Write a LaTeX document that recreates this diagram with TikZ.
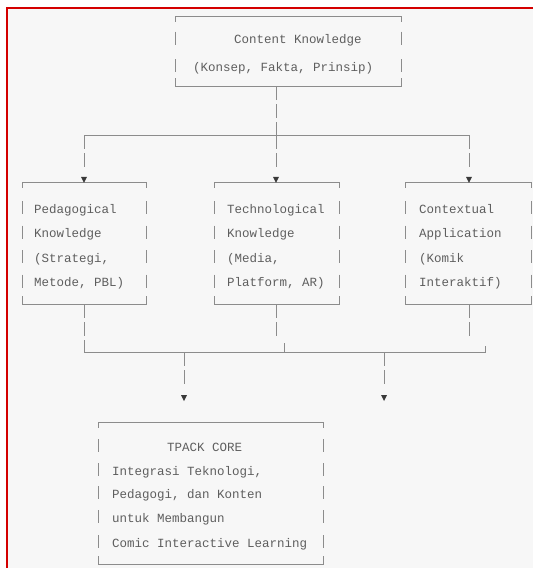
\documentclass[tikz,border=0pt]{standalone}
\usepackage{fontspec}
\newfontfamily\asciimono{Liberation Mono}
\definecolor{bgc}{HTML}{F7F7F7}
\definecolor{lc}{HTML}{8C8C8C}
\definecolor{tc}{HTML}{5E5E5E}
\definecolor{tipc}{HTML}{3A3A3A}
\definecolor{redc}{HTML}{D40000}
\tikzset{
  txt/.style={anchor=base west, inner sep=0pt, text=tc, font=\asciimono\fontsize{12.5}{15}\selectfont},
  holder/.style={draw=none, inner sep=0pt},
  edgeline/.style={draw=lc, line width=0.9pt},
  conn/.style={draw=lc, line width=0.9pt, dash pattern=on 14pt off 4pt},
}
\newcommand\asciiframe[2]{%
  \draw[edgeline] ([yshift=-5pt]#1.north west) -- (#1.north west) -- (#1.north east) -- ([yshift=-5pt]#1.north east);
  \draw[edgeline] ([yshift=8pt]#1.south west) -- (#1.south west) -- (#1.south east) -- ([yshift=8pt]#1.south east);
  \foreach \bl in {#2} {
    \draw[edgeline] (#1.west |- 0,\bl-12) -- (#1.west |- 0,\bl+1);
    \draw[edgeline] (#1.east |- 0,\bl-12) -- (#1.east |- 0,\bl+1);
  }
}
\newcommand\downtip[1]{\fill[tipc] ([xshift=-3pt,yshift=6pt]#1) -- ([xshift=3pt,yshift=6pt]#1) -- (#1) -- cycle;}
\begin{document}
\begin{tikzpicture}[x=1pt,y=-1pt]
\useasboundingbox (0,0) rectangle (533,568);
\fill[white] (0,0) rectangle (533,568);
\fill[bgc] (7,8) rectangle (533,568);
\draw[redc, line width=2pt] (7,568) -- (7,8) -- (533,8);

% box holders
\node[holder, minimum width=225pt, minimum height=69pt] (ck) at (288.5,51.5) {};
\node[holder, minimum width=123pt, minimum height=121pt] (ped) at (84.5,243.5) {};
\node[holder, minimum width=124pt, minimum height=121pt] (tech) at (277,243.5) {};
\node[holder, minimum width=125pt, minimum height=121pt] (ctx) at (468.5,243.5) {};
\node[holder, minimum width=224pt, minimum height=141pt] (tpack) at (211,493.5) {};

% frames
\asciiframe{ck}{43.5,71}
\asciiframe{ped}{213,237.5,262,286.5}
\asciiframe{tech}{213,237.5,262,286.5}
\asciiframe{ctx}{213,237.5,262,286.5}
\asciiframe{tpack}{451,475,498,522,547}

% texts
\node[txt] (ck1) at (234,43.5) {Content Knowledge};
\node[txt] (ck2) at (193,71) {(Konsep, Fakta, Prinsip)};

\node[txt] (ped1) at (34,213) {Pedagogical};
\node[txt] (ped2) at (34,237.5) {Knowledge};
\node[txt] (ped3) at (34,262) {(Strategi,};
\node[txt] (ped4) at (34,286.5) {Metode, PBL)};

\node[txt] (tech1) at (227,213) {Technological};
\node[txt] (tech2) at (227,237.5) {Knowledge};
\node[txt] (tech3) at (227,262) {(Media,};
\node[txt] (tech4) at (227,286.5) {Platform, AR)};

\node[txt] (ctx1) at (419,213) {Contextual};
\node[txt] (ctx2) at (419,237.5) {Application};
\node[txt] (ctx3) at (419,262) {(Komik};
\node[txt] (ctx4) at (419,286.5) {Interaktif)};

\node[txt] (tp1) at (167,451) {TPACK CORE};
\node[txt] (tp2) at (112,475) {Integrasi Teknologi,};
\node[txt] (tp3) at (112,498) {Pedagogi, dan Konten};
\node[txt] (tp4) at (112,522) {untuk Membangun};
\node[txt] (tp5) at (112,547) {Comic Interactive Learning};

% split connectors
\coordinate (sj) at (276,135);
\coordinate (sl) at (84,135);
\coordinate (sr) at (469,135);
\coordinate (el) at (84,168);
\coordinate (em) at (276,168);
\coordinate (er) at (469,168);
\draw[conn] (ck.south -| sj) -- (sj);
\draw[edgeline] ([yshift=-5pt]sl) -- (sl) -- (sr) -- ([yshift=-5pt]sr);
\draw[conn] (sl) -- (el);
\draw[conn] (sj) -- (em);
\draw[conn] (sr) -- (er);
\downtip{ped.north -| sl}
\downtip{tech.north -| sj}
\downtip{ctx.north -| sr}

% merge connectors
\coordinate (ml) at (84,352);
\coordinate (mr) at (485,352);
\coordinate (mt) at (284,352);
\coordinate (mm) at (276,338);
\coordinate (mx) at (469,338);
\coordinate (d1) at (184,352);
\coordinate (d2) at (384,352);
\coordinate (d1e) at (184,386);
\coordinate (d2e) at (384,386);
\coordinate (t1) at (184,401);
\coordinate (t2) at (384,401);
\draw[conn] (ped.south -| ml) -- (ml);
\draw[conn] (tech.south -| mm) -- (mm);
\draw[conn] (ctx.south -| mx) -- (mx);
\draw[edgeline] (ml) -- (mr) -- ([yshift=6pt]mr);
\draw[edgeline] (mt) -- ([yshift=9pt]mt);
\draw[conn] (d1) -- (d1e);
\draw[conn] (d2) -- (d2e);
\downtip{t1}
\downtip{t2}
\end{tikzpicture}
\end{document}
